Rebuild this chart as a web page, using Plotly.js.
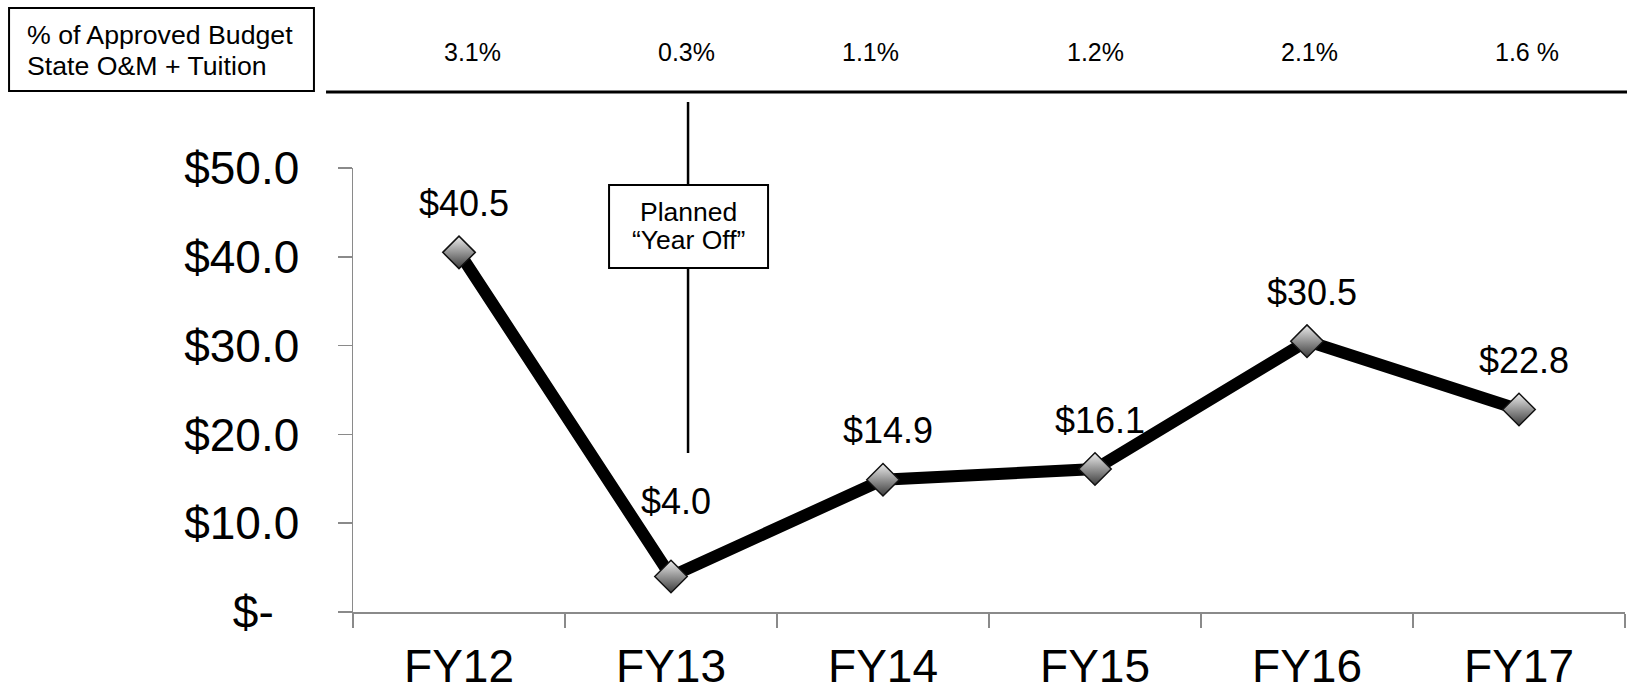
<!DOCTYPE html>
<html>
<head>
<meta charset="utf-8">
<script src="https://cdn.plot.ly/plotly-3.0.1.min.js"></script>
<style>html,body{margin:0;padding:0;background:#fff;}#chart{width:1627px;height:689px;}</style>
</head>
<body>
<div id="chart"></div>
<script>
// ---- data ----
const categories = ["FY12", "FY13", "FY14", "FY15", "FY16", "FY17"];
const values = [40.5, 4.0, 14.9, 16.1, 30.5, 22.8];
const pctLabels = ["3.1%", "0.3%", "1.1%", "1.2%", "2.1%", "1.6 %"];
const yTickVals = [0, 10, 20, 30, 40, 50];
const yTickText = ["$-\u00a0\u00a0", "$10.0", "$20.0", "$30.0", "$40.0", "$50.0"];
const boxLines = ["% of Approved Budget", "State O&M + Tuition"];
const noteLines = ["Planned", "\u201CYear Off\u201D"];

// ---- styling helpers (positions/styles, not data) ----
const FONT = "Liberation Sans, Arial, sans-serif";
const pctShift = [13, 15, -13, 0, 2, 8];
const labelShiftY = i => (i === 1 ? 75 : 49);

const trace = {
  type: "scatter",
  mode: "lines+markers",
  x: categories,
  y: values,
  line: { color: "#000", width: 12 },
  marker: {
    symbol: "diamond",
    size: 25,
    color: "#ececec",
    gradient: { type: "vertical", color: "#3c3c3c" },
    line: { color: "#111", width: 1.5 }
  },
  hoverinfo: "skip",
  cliponaxis: false
};

const annotations = [];
values.forEach((v, i) => {
  annotations.push({
    x: categories[i], y: v, xref: "x", yref: "y",
    text: "$" + v.toFixed(1), showarrow: false,
    xanchor: "center", yanchor: "middle",
    xshift: 5, yshift: labelShiftY(i),
    font: { family: FONT, size: 36, color: "#000" }
  });
});
pctLabels.forEach((t, i) => {
  annotations.push({
    x: categories[i], y: 1.2613, xref: "x", yref: "paper",
    text: t, showarrow: false, xanchor: "center", yanchor: "middle",
    xshift: pctShift[i],
    font: { family: FONT, size: 25, color: "#000" }
  });
});
boxLines.forEach((t, i) => {
  annotations.push({
    x: -0.2582, y: [1.2995, 1.2297][i], xref: "paper", yref: "paper",
    text: t, showarrow: false, xanchor: "left", yanchor: "middle",
    font: { family: FONT, size: 26.7, color: "#000" }
  });
});
noteLines.forEach((t, i) => {
  annotations.push({
    x: 0.2634, y: [0.9009, 0.8378][i], xref: "paper", yref: "paper",
    text: t, showarrow: false, xanchor: "center", yanchor: "middle",
    font: { family: FONT, size: 26.5, color: "#000" }
  });
});

const shapes = [
  // left header box
  { type: "rect", xref: "paper", yref: "paper", x0: -0.2704, x1: -0.0307, y0: 1.1734, y1: 1.3604,
    line: { color: "#000", width: 2 }, fillcolor: "rgba(0,0,0,0)" },
  // header rule
  { type: "line", xref: "paper", yref: "paper", x0: -0.0212, x1: 1.002, y0: 1.1712, y1: 1.1712,
    line: { color: "#000", width: 3 } },
  // vertical marker line (upper)
  { type: "line", xref: "paper", yref: "paper", x0: 0.2634, x1: 0.2634, y0: 1.1486, y1: 0.9617,
    line: { color: "#000", width: 2.5 } },
  // vertical marker line (lower)
  { type: "line", xref: "paper", yref: "paper", x0: 0.2634, x1: 0.2634, y0: 0.7748, y1: 0.3581,
    line: { color: "#000", width: 2.5 } },
  // note box
  { type: "rect", xref: "paper", yref: "paper", x0: 0.2013, x1: 0.3263, y0: 0.7748, y1: 0.9617,
    line: { color: "#000", width: 2 }, fillcolor: "#fff" }
];

const layout = {
  width: 1627, height: 689,
  margin: { l: 353, r: 2, t: 168, b: 77 },
  paper_bgcolor: "#fff", plot_bgcolor: "#fff",
  showlegend: false,
  hovermode: false,
  font: { family: FONT, color: "#000" },
  xaxis: {
    type: "category",
    range: [-0.5, 5.5],
    tickson: "boundaries",
    ticks: "outside", ticklen: 14, tickwidth: 1.5, tickcolor: "#8a8a8a",
    showline: true, linecolor: "#8a8a8a", linewidth: 1.5,
    showgrid: false, zeroline: false,
    tickfont: { family: FONT, size: 46, color: "#000" },
    ticklabelstandoff: 13,
    fixedrange: true
  },
  yaxis: {
    range: [0, 50],
    tickvals: yTickVals, ticktext: yTickText,
    ticks: "outside", ticklen: 14, tickwidth: 1.5, tickcolor: "#8a8a8a",
    showline: true, linecolor: "#8a8a8a", linewidth: 1.5,
    showgrid: false, zeroline: false,
    tickfont: { family: FONT, size: 46, color: "#000" },
    ticklabelstandoff: 29,
    fixedrange: true
  },
  shapes: shapes,
  annotations: annotations
};

Plotly.newPlot("chart", [trace], layout, { displayModeBar: false, staticPlot: true });
</script>
</body>
</html>
